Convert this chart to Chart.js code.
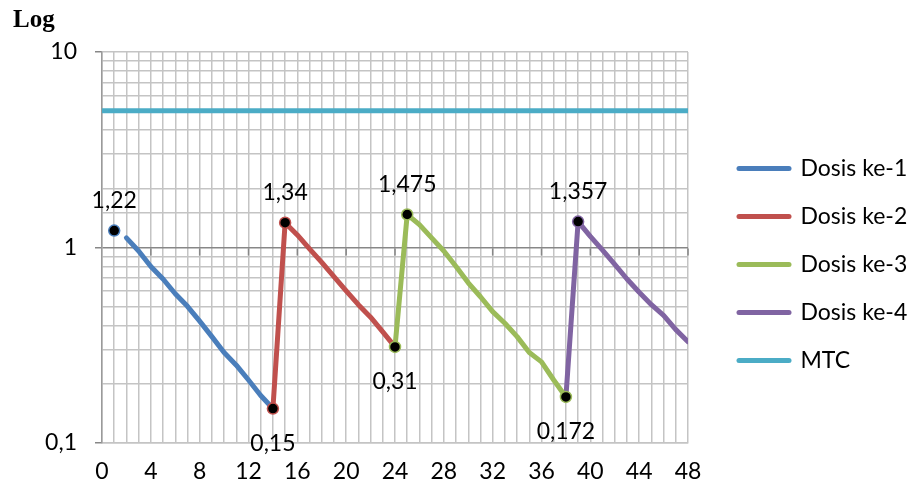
<!DOCTYPE html>
<html>
<head>
<meta charset="utf-8">
<title>Dosis ke-1 .. ke-4 vs MTC</title>
<script src="https://cdn.jsdelivr.net/npm/chart.js@4/dist/chart.umd.min.js"></script>
<style>
    html, body { margin: 0; padding: 0; background: #ffffff; }
    #wrap { position: relative; width: 911px; height: 486px; }
</style>
</head>
<body>
<div id="wrap"><canvas id="doseChart"></canvas></div>
<script>
// Data (time on x, concentration on log y)
const dose1X = [1, 2, 3, 4, 5, 6, 7, 8, 9, 10, 11, 12, 13, 14];
const dose1Y = [1.22, 1.12, 0.96, 0.80, 0.69, 0.58, 0.50, 0.42, 0.35, 0.29, 0.25, 0.21, 0.175, 0.15];

const dose2X = [14, 15, 16, 17, 18, 19, 20, 21, 22, 23, 24];
const dose2Y = [0.15, 1.34, 1.16, 0.985, 0.84, 0.71, 0.60, 0.51, 0.44, 0.37, 0.31];

const dose3X = [24, 25, 26, 27, 28, 29, 30, 31, 32, 33, 34, 35, 36, 37, 38];
const dose3Y = [0.31, 1.475, 1.31, 1.12, 0.96, 0.80, 0.66, 0.56, 0.47, 0.41, 0.35, 0.29, 0.26, 0.21, 0.172];

const dose4X = [38, 39, 40, 41, 42, 43, 44, 45, 46, 47, 48];
const dose4Y = [0.172, 1.357, 1.14, 0.97, 0.82, 0.69, 0.59, 0.51, 0.45, 0.38, 0.33];

const mtcX = [0, 48];
const mtcY = [5, 5];

// indices of the points that carry a marker and a value label
const dose1Marks = [0];
const dose2Marks = [0, 1];
const dose3Marks = [0, 1, 14];
const dose4Marks = [1];

const seriesNames = ['Dosis ke-1', 'Dosis ke-2', 'Dosis ke-3', 'Dosis ke-4', 'MTC'];
const yTickLabels = { '0.1': '0,1', '1': '1', '10': '10' };

const FONT = 'Lato';
const FONT_SIZE = 23;
const GRID = '#c4c4c4';
const DARK = '#878787';

function toPoints(xs, ys) {
    return xs.map((x, i) => ({ x: x, y: ys[i] }));
}

function isDecade(v) {
    const l = Math.log10(v);
    return Math.abs(l - Math.round(l)) < 1e-9;
}

function doseDataset(label, xs, ys, color, marks, order) {
    return {
        label: label,
        data: toPoints(xs, ys),
        borderColor: color,
        backgroundColor: color,
        borderWidth: 5,
        borderCapStyle: 'round',
        borderJoinStyle: 'round',
        tension: 0,
        order: order,
        marks: marks,
        pointRadius: ctx => marks.includes(ctx.dataIndex) ? 5.5 : 0,
        pointHoverRadius: ctx => marks.includes(ctx.dataIndex) ? 5.5 : 0,
        pointBackgroundColor: '#000000',
        pointBorderColor: color,
        pointBorderWidth: 1.5
    };
}

// value labels next to the marked points ("1,22", "0,15" ...)
const valueLabels = {
    id: 'valueLabels',
    afterDatasetsDraw(chart) {
        const ctx = chart.ctx;
        ctx.save();
        ctx.font = FONT_SIZE + 'px ' + FONT;
        ctx.fillStyle = '#000000';
        ctx.textAlign = 'center';
        ctx.textBaseline = 'middle';
        chart.data.datasets.forEach((ds, di) => {
            if (!ds.marks) return;
            const meta = chart.getDatasetMeta(di);
            ds.marks.forEach(i => {
                const pt = meta.data[i];
                const v = ds.data[i].y;
                const text = String(v).replace('.', ',');
                const dy = v > 1 ? -30 : 35;
                ctx.fillText(text, pt.x, pt.y + dy);
            });
        });
        ctx.restore();
    }
};

// small tick marks where the horizontal axis crosses at y = 1
const crossTicks = {
    id: 'crossTicks',
    beforeDatasetsDraw(chart) {
        const ctx = chart.ctx;
        const xs = chart.scales.x;
        const y1 = Math.round(chart.scales.y.getPixelForValue(1)) + 0.5;
        ctx.save();
        ctx.strokeStyle = DARK;
        ctx.lineWidth = 1.5;
        ctx.beginPath();
        for (let v = 4; v <= 48; v += 4) {
            const px = xs.getPixelForValue(v);
            ctx.moveTo(px, y1);
            ctx.lineTo(px, y1 + 7);
        }
        ctx.stroke();
        ctx.restore();
    }
};

// work out the right padding so the legend sits where it does in the reference
const measure = document.createElement('canvas').getContext('2d');
measure.font = FONT_SIZE + 'px ' + FONT;
const textW = Math.max(...seriesNames.map(n => measure.measureText(n).width));
const legendPad = 25;
const lineW = 50;
const legendWidth = legendPad + lineW + FONT_SIZE / 2 + textW + 10;
const legendLeft = 714;
const padRight = 911 - legendLeft - legendWidth;

Chart.defaults.font.family = FONT;
Chart.defaults.font.size = FONT_SIZE;
Chart.defaults.color = '#000000';

new Chart(document.getElementById('doseChart'), {
    type: 'line',
    data: {
        datasets: [
            doseDataset(seriesNames[0], dose1X, dose1Y, '#4a7ebb', dose1Marks, 4),
            doseDataset(seriesNames[1], dose2X, dose2Y, '#c0504d', dose2Marks, 3),
            doseDataset(seriesNames[2], dose3X, dose3Y, '#9bbb59', dose3Marks, 1),
            doseDataset(seriesNames[3], dose4X, dose4Y, '#8064a2', dose4Marks, 2),
            {
                label: seriesNames[4],
                data: toPoints(mtcX, mtcY),
                borderColor: '#4bacc6',
                backgroundColor: '#4bacc6',
                borderWidth: 5,
                borderCapStyle: 'round',
                pointRadius: 0,
                order: 5
            }
        ]
    },
    options: {
        responsive: true,
        maintainAspectRatio: false,
        animation: false,
        // first segment of Dosis ke-1 is not drawn in the reference
        datasets: {
            line: {
                segment: {
                    borderColor: ctx => (ctx.datasetIndex === 0 && ctx.p0DataIndex === 0) ? 'rgba(0,0,0,0)' : undefined
                }
            }
        },
        layout: {
            padding: { left: 13, right: padRight, top: 0, bottom: 0 }
        },
        plugins: {
            title: {
                display: true,
                text: 'Log',
                align: 'start',
                color: '#000000',
                font: { family: 'Liberation Serif', weight: 'bold', size: 25 },
                padding: { top: 6, bottom: 16 }
            },
            legend: {
                position: 'right',
                align: 'start',
                maxWidth: 400,
                // empty title only pushes the items down
                title: {
                    display: true,
                    text: '',
                    font: { size: 10, lineHeight: 1 },
                    padding: { top: 122, bottom: 0 }
                },
                labels: {
                    usePointStyle: true,
                    pointStyle: 'line',
                    pointStyleWidth: lineW,
                    padding: legendPad,
                    color: '#000000',
                    font: { family: FONT, size: FONT_SIZE },
                    sort: (a, b) => a.datasetIndex - b.datasetIndex,
                    generateLabels: chart => Chart.defaults.plugins.legend.labels.generateLabels(chart)
                        .map(item => Object.assign(item, { lineWidth: 5, lineCap: 'round' }))
                }
            },
            tooltip: { enabled: false }
        },
        scales: {
            x: {
                type: 'linear',
                min: 0,
                max: 48,
                afterFit: s => { s.height = 43; },
                ticks: {
                    stepSize: 1,
                    autoSkip: false,
                    maxRotation: 0,
                    padding: 15,
                    callback: v => (v % 4 === 0 ? String(v) : '')
                },
                grid: {
                    color: GRID,
                    lineWidth: 1.5,
                    drawTicks: false
                },
                border: { color: GRID, width: 1.5 }
            },
            y: {
                type: 'logarithmic',
                min: 0.1,
                max: 10,
                afterFit: s => { s.width = 89; },
                ticks: {
                    autoSkip: false,
                    padding: 18,
                    callback: v => {
                        if (!isDecade(v)) return '';
                        return yTickLabels[String(Math.pow(10, Math.round(Math.log10(v))))] || '';
                    }
                },
                grid: {
                    color: ctx => (ctx.tick && Math.abs(ctx.tick.value - 1) < 1e-9) ? DARK : GRID,
                    lineWidth: 1.5,
                    tickLength: 7,
                    tickColor: ctx => (ctx.tick && isDecade(ctx.tick.value)) ? DARK : 'rgba(0,0,0,0)'
                },
                border: { color: '#9a9a9a', width: 1.5 }
            },
            // empty axis that only keeps the gap between plot and legend
            gap: {
                type: 'linear',
                position: 'right',
                display: true,
                afterFit: s => { s.width = 26; },
                ticks: { display: false },
                grid: { display: false, drawTicks: false },
                border: { display: false }
            }
        }
    },
    plugins: [valueLabels, crossTicks]
});
</script>
</body>
</html>
